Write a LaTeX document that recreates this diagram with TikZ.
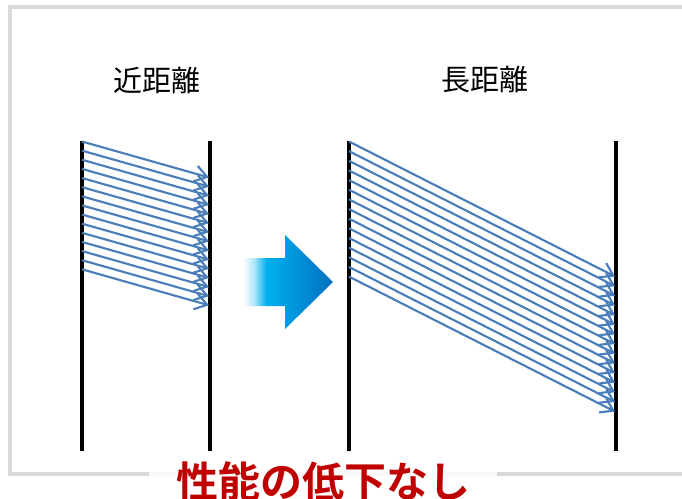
\documentclass[tikz,border=0pt]{standalone}
\usepackage{fontspec}
\usetikzlibrary{arrows.meta}
\newfontfamily\cjk{Noto Sans CJK JP}[BoldFont={Noto Sans CJK JP Bold}]
\definecolor{arrblue}{RGB}{74,126,187}
\definecolor{boxgray}{RGB}{217,217,217}
\definecolor{labred}{RGB}{192,0,0}
\definecolor{cyanA}{RGB}{0,176,240}
\definecolor{blueA}{RGB}{0,112,192}
\pgfdeclarehorizontalshading{bigarrowshade}{100bp}{color(0bp)=(white); color(25bp)=(white); color(31bp)=(white!70!cyanA); color(38bp)=(cyanA); color(75bp)=(blueA); color(100bp)=(blueA)}
\tikzset{
  wall/.style={line width=3pt, black},
  ray/.style={draw=arrblue, line width=1.6pt, -{Straight Barb[length=9pt,width=12pt,line width=1.6pt]}},
  heading/.style={font=\cjk\fontsize{21.75pt}{24pt}\selectfont, inner sep=0pt},
  result/.style={font=\cjk\bfseries\fontsize{31.5pt}{34pt}\selectfont, text=labred, fill=white, fill opacity=0.85, text opacity=1, inner xsep=20pt, inner ysep=2pt}
}
\begin{document}
\begin{tikzpicture}[x=0.75pt,y=-0.75pt]
\useasboundingbox (0,0) rectangle (682,499);
\fill[white] (0,0) rectangle (682,499);
\begin{scope}
\clip (0,0) rectangle (682,499);
\draw[boxgray, line width=2.4pt] (10,7) rectangle (700,474);
\end{scope}
% headings
\node[heading] (near) at (157,80) {近距離};
\node[heading] (far) at (485,80) {長距離};
% walls
\coordinate (L1t) at (82,141); \coordinate (L1b) at (82,451);
\coordinate (L2t) at (210,141); \coordinate (L2b) at (210,451);
\coordinate (R1t) at (349,141); \coordinate (R1b) at (349,451);
\coordinate (R2t) at (616,141); \coordinate (R2b) at (616,451);
\draw[wall] (L1t) -- (L1b);
\draw[wall] (L2t) -- (L2b);
\draw[wall] (R1t) -- (R1b);
\draw[wall] (R2t) -- (R2b);
% short-distance rays
\foreach \i in {0,...,14}{
  \coordinate (sa\i) at (82,{141.5+9.13*\i});
  \coordinate (sb\i) at (209,{177.5+9.13*\i});
  \draw[ray] (sa\i) -- (sb\i);
}
% long-distance rays
\foreach \i in {0,...,14}{
  \coordinate (la\i) at (349,{141.5+9.65*\i});
  \coordinate (lb\i) at (615,{276.5+9.65*\i});
  \draw[ray] (la\i) -- (lb\i);
}
% big arrow
\path[shading=bigarrowshade] (243,258) -- (285,258) -- (285,235) -- (333,282) -- (285,329) -- (285,306) -- (243,306) -- cycle;
% result label
\node[result] (res) at (323,481) {性能の低下なし};
\end{tikzpicture}
\end{document}
